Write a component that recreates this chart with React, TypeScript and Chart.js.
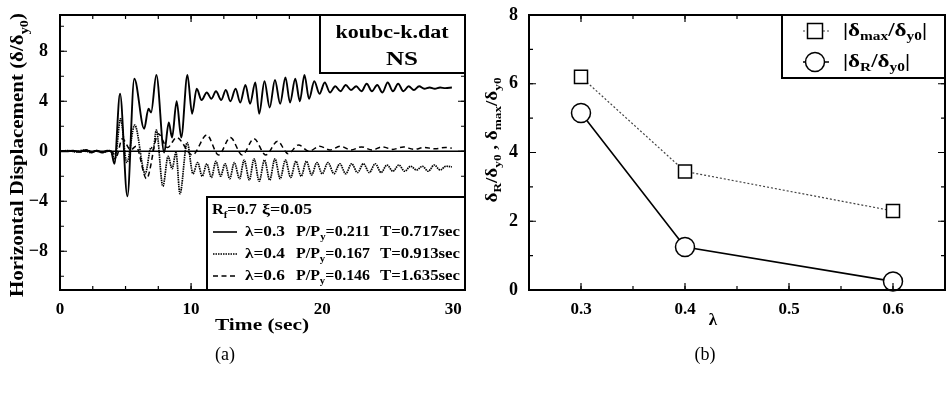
import React, { useEffect, useRef } from "react";
import { Chart, registerables } from "chart.js";
Chart.register(...registerables);

const SERIF = "'Liberation Serif', 'Times New Roman', serif";

// ---------- Panel (a): time histories ----------
const timeTicks = [0, 10, 20, 30];
const dispTicks = [-8, -4, 0, 4, 8];

// [time (sec), δ/δy0] extrema
const lam03Hist: [number, number][] = [
  [0, 0], [0.5, 0], [1.0, 0.05], [1.5, -0.05], [2.0, 0.1], [2.4, -0.1], [2.8, 0.05], [3.2, -0.1], [3.6, 0.05], [3.9, 0],
  [4.15, -1.0], [4.58, 4.6], [5.14, -3.6], [5.67, 5.8], [6.42, 1.8], [6.75, 3.4], [6.95, 3.1], [7.35, 6.1], [7.95, -0.1], [8.3, 2.3],
  [8.55, 1.1], [8.9, 4.0], [9.25, 1.1], [9.72, 6.1], [10.08, 3.0], [10.43, 5.0], [10.8, 4.1], [11.2, 4.7], [11.55, 4.2], [11.9, 4.8],
  [12.3, 4.1], [12.65, 4.9], [13.0, 4.0], [13.4, 5.0], [13.75, 3.9], [14.15, 5.3], [14.5, 3.8], [14.9, 5.5], [15.2, 3.0], [15.6, 5.6],
  [16.0, 3.5], [16.4, 5.7], [16.8, 3.8], [17.2, 5.9], [17.55, 3.9], [17.95, 5.8], [18.3, 4.0], [18.65, 6.1], [19.0, 4.2], [19.4, 5.6],
  [19.8, 4.6], [20.2, 5.5], [20.6, 4.7], [21.0, 5.2], [21.4, 4.8], [21.8, 5.3], [22.2, 4.9], [22.6, 5.2], [23.0, 4.8], [23.4, 5.4],
  [23.8, 4.8], [24.2, 5.3], [24.6, 4.7], [25.0, 5.5], [25.4, 4.8], [25.8, 5.4], [26.2, 4.8], [26.6, 5.2], [27.0, 4.9], [27.4, 5.2],
  [27.8, 5.0], [28.2, 5.1], [28.6, 5.0], [29.0, 5.1], [29.4, 5.05], [29.9, 5.1],
];
const lam04Hist: [number, number][] = [
  [0, 0], [0.6, 0.05], [1.2, -0.05], [1.8, 0.1], [2.3, -0.1], [2.8, 0.05], [3.3, -0.1], [3.8, 0.05], [4.2, -0.6], [4.62, 2.6],
  [5.1, -0.9], [5.7, 2.1], [6.5, -1.8], [6.95, 0.3], [7.1, 0.1], [7.35, 1.7], [7.85, -2.8], [8.25, -0.4], [8.55, -1.4], [8.85, -0.1],
  [9.15, -3.4], [9.7, 0.7], [10.15, -1.8], [10.5, -0.9], [10.85, -2.0], [11.2, -1.0], [11.55, -2.1], [11.9, -0.8], [12.25, -2.0], [12.6, -1.0],
  [12.95, -2.2], [13.3, -0.9], [13.7, -2.2], [14.05, -0.7], [14.45, -2.3], [14.8, -0.6], [15.2, -2.4], [15.6, -0.7], [16.0, -2.3], [16.4, -0.6],
  [16.8, -2.2], [17.2, -0.7], [17.6, -2.1], [18.0, -0.8], [18.4, -2.0], [18.8, -0.8], [19.2, -1.9], [19.6, -0.9], [20.0, -1.8], [20.45, -0.9],
  [20.9, -1.8], [21.35, -1.0], [21.8, -1.8], [22.25, -1.0], [22.7, -1.7], [23.15, -1.0], [23.6, -1.7], [24.05, -1.0], [24.5, -1.7], [24.95, -1.1],
  [25.4, -1.6], [25.85, -1.1], [26.3, -1.6], [26.75, -1.2], [27.2, -1.5], [27.65, -1.2], [28.1, -1.6], [28.55, -1.1], [29.0, -1.5], [29.45, -1.2],
  [29.9, -1.25],
];
const lam06Hist: [number, number][] = [
  [0, 0], [0.8, 0.05], [1.6, -0.05], [2.4, 0.05], [3.2, -0.05], [3.9, 0], [4.3, -0.4], [4.75, 1.0], [5.4, 0.1], [5.8, 0.4],
  [6.6, -2.2], [7.5, 1.4], [8.2, 0.3], [8.9, 1.1], [10.1, -0.3], [11.2, 1.3], [12.1, -0.3], [13.0, 1.1], [13.9, -0.3], [14.8, 1.0],
  [15.7, -0.3], [16.6, 0.8], [17.4, -0.2], [18.2, 0.5], [19.0, 0.0], [19.8, 0.4], [20.6, 0.1], [21.4, 0.4], [22.2, 0.1], [23.0, 0.35],
  [23.8, 0.1], [24.6, 0.35], [25.4, 0.15], [26.2, 0.35], [27.0, 0.15], [27.8, 0.3], [28.6, 0.2], [29.4, 0.3], [29.9, 0.25],
];

// ---------- Panel (b): peak and residual displacement ----------
const lambdaValues = [0.3, 0.4, 0.6];
const maxRatio = [6.2, 3.45, 2.3];
const residualRatio = [5.15, 1.25, 0.25];
const lambdaTicks = [0.3, 0.4, 0.5, 0.6];
const ratioTicks = [0, 2, 4, 6, 8];

type Seg = { t: string; sub?: boolean };

function segFont(size: number, weight: string, sub: boolean) {
  return `${weight} ${sub ? Math.round(size * 0.66) : size}px ${SERIF}`;
}
function richWidth(ctx: CanvasRenderingContext2D, segs: Seg[], size: number, weight: string) {
  let w = 0;
  for (const s of segs) {
    ctx.font = segFont(size, weight, !!s.sub);
    w += ctx.measureText(s.t).width;
  }
  return w;
}
function drawRich(
  ctx: CanvasRenderingContext2D,
  segs: Seg[],
  x: number,
  y: number,
  size: number,
  weight: string,
  align: "left" | "center",
  fit?: number,
  rotate?: boolean
) {
  const w = richWidth(ctx, segs, size, weight);
  const sx = fit ? fit / w : 1;
  ctx.save();
  ctx.translate(x, y);
  if (rotate) ctx.rotate(-Math.PI / 2);
  ctx.scale(sx, 1);
  let cx = align === "center" ? -w / 2 : 0;
  ctx.textBaseline = "middle";
  ctx.textAlign = "left";
  ctx.fillStyle = "#000";
  for (const s of segs) {
    ctx.font = segFont(size, weight, !!s.sub);
    ctx.fillText(s.t, cx, s.sub ? size * 0.33 : 0);
    cx += ctx.measureText(s.t).width;
  }
  ctx.restore();
}

function drawFrameAndTicks(
  chart: any,
  xMajor: number[],
  xMinorStep: number,
  yMajor: number[],
  yMinorStep: number
) {
  const { ctx, chartArea: a, scales } = chart;
  const xs = scales.x;
  const ys = scales.y;
  ctx.save();
  ctx.strokeStyle = "#000";
  ctx.lineWidth = 1.2;
  const tick = (px: number, horizontal: boolean, len: number) => {
    ctx.beginPath();
    if (horizontal) {
      ctx.moveTo(px, a.bottom);
      ctx.lineTo(px, a.bottom - len);
      ctx.moveTo(px, a.top);
      ctx.lineTo(px, a.top + len);
    } else {
      ctx.moveTo(a.left, px);
      ctx.lineTo(a.left + len, px);
      ctx.moveTo(a.right, px);
      ctx.lineTo(a.right - len, px);
    }
    ctx.stroke();
  };
  const eps = 1e-9;
  for (let v = Math.ceil(xs.min / xMinorStep - eps) * xMinorStep; v <= xs.max + eps; v += xMinorStep) {
    tick(xs.getPixelForValue(v), true, 4);
  }
  for (const v of xMajor) tick(xs.getPixelForValue(v), true, 7);
  for (let v = Math.ceil(ys.min / yMinorStep - eps) * yMinorStep; v <= ys.max + eps; v += yMinorStep) {
    tick(ys.getPixelForValue(v), false, 4);
  }
  for (const v of yMajor) tick(ys.getPixelForValue(v), false, 7);
  ctx.lineWidth = 2;
  ctx.strokeRect(a.left, a.top, a.right - a.left, a.bottom - a.top);
  ctx.restore();
}

const decorA = {
  id: "decorA",
  beforeDatasetsDraw(chart: any) {
    const { ctx, chartArea: a, scales } = chart;
    const y0 = scales.y.getPixelForValue(0);
    ctx.save();
    ctx.strokeStyle = "#000";
    ctx.lineWidth = 1.6;
    ctx.beginPath();
    ctx.moveTo(a.left, y0);
    ctx.lineTo(a.right, y0);
    ctx.stroke();
    ctx.restore();
  },
  afterDraw(chart: any) {
    const ctx: CanvasRenderingContext2D = chart.ctx;
    drawFrameAndTicks(chart, timeTicks, 2.5, dispTicks, 2);
    ctx.save();
    // file-name box
    ctx.fillStyle = "#fff";
    ctx.fillRect(320, 15, 145, 58);
    ctx.strokeStyle = "#000";
    ctx.lineWidth = 2;
    ctx.strokeRect(320, 15, 145, 58);
    drawRich(ctx, [{ t: "koubc-k.dat" }], 392, 33, 18, "bold", "center", 113);
    drawRich(ctx, [{ t: "NS" }], 402, 60, 19, "bold", "center", 32);
    // legend box
    ctx.fillStyle = "#fff";
    ctx.fillRect(207, 197, 258, 93);
    ctx.strokeRect(207, 197, 258, 93);
    drawRich(ctx, [{ t: "R" }, { t: "f", sub: true }, { t: "=0.7" }], 212, 210, 15, "bold", "left", 45);
    drawRich(ctx, [{ t: "ξ=0.05" }], 262, 210, 15, "bold", "left", 50);
    const rows = [
      { y: 232, dash: [] as number[], lam: "λ=0.3", p: "=0.211", T: "T=0.717sec" },
      { y: 254, dash: [1.5, 1], lam: "λ=0.4", p: "=0.167", T: "T=0.913sec" },
      { y: 276, dash: [5, 3.5], lam: "λ=0.6", p: "=0.146", T: "T=1.635sec" },
    ];
    for (const r of rows) {
      ctx.save();
      ctx.setLineDash(r.dash);
      ctx.lineWidth = 1.6;
      ctx.beginPath();
      ctx.moveTo(213, r.y);
      ctx.lineTo(237, r.y);
      ctx.stroke();
      ctx.restore();
      drawRich(ctx, [{ t: r.lam }], 245, r.y, 15, "bold", "left", 40);
      drawRich(ctx, [{ t: "P/P" }, { t: "y", sub: true }, { t: r.p }], 296, r.y, 15, "bold", "left", 74);
      drawRich(ctx, [{ t: r.T }], 380, r.y, 15, "bold", "left", 80);
    }
    // axis titles
    drawRich(
      ctx,
      [{ t: "Horizontal Displacement (δ/δ" }, { t: "y0", sub: true }, { t: ")" }],
      18,
      155,
      19,
      "bold",
      "center",
      284,
      true
    );
    drawRich(ctx, [{ t: "Time (sec)" }], 262, 326, 16, "bold", "center", 94);
    drawRich(ctx, [{ t: "(a)" }], 225, 355, 18, "normal", "center");
    ctx.restore();
  },
};

const decorB = {
  id: "decorB",
  afterDraw(chart: any) {
    const ctx: CanvasRenderingContext2D = chart.ctx;
    drawFrameAndTicks(chart, lambdaTicks, 0.05, ratioTicks, 1);
    ctx.save();
    // legend box (canvas starts at page x=480)
    const bx = 782 - 480;
    ctx.fillStyle = "#fff";
    ctx.fillRect(bx, 15, 945 - 782, 63);
    ctx.strokeStyle = "#000";
    ctx.lineWidth = 2;
    ctx.strokeRect(bx, 15, 945 - 782, 63);
    const mx = 815 - 480;
    // row 1: square
    ctx.save();
    ctx.lineWidth = 1.2;
    ctx.strokeStyle = "#444";
    ctx.setLineDash([2, 2]);
    ctx.beginPath();
    ctx.moveTo(803 - 480, 31);
    ctx.lineTo(829 - 480, 31);
    ctx.stroke();
    ctx.restore();
    ctx.fillStyle = "#fff";
    ctx.lineWidth = 1.5;
    ctx.fillRect(mx - 7.5, 31 - 7.5, 15, 15);
    ctx.strokeRect(mx - 7.5, 31 - 7.5, 15, 15);
    // row 2: circle
    ctx.lineWidth = 1.5;
    ctx.beginPath();
    ctx.moveTo(803 - 480, 62);
    ctx.lineTo(829 - 480, 62);
    ctx.stroke();
    ctx.beginPath();
    ctx.arc(mx, 62, 9.5, 0, Math.PI * 2);
    ctx.fill();
    ctx.stroke();
    drawRich(ctx, [{ t: "|δ" }, { t: "max", sub: true }, { t: "/δ" }, { t: "y0", sub: true }, { t: "|" }], 843 - 480, 31, 18, "bold", "left", 84);
    drawRich(ctx, [{ t: "|δ" }, { t: "R", sub: true }, { t: "/δ" }, { t: "y0", sub: true }, { t: "|" }], 843 - 480, 62, 18, "bold", "left", 67);
    // axis titles
    drawRich(
      ctx,
      [
        { t: "δ" }, { t: "R", sub: true }, { t: "/δ" }, { t: "y0", sub: true },
        { t: " , δ" }, { t: "max", sub: true }, { t: "/δ" }, { t: "y0", sub: true },
      ],
      493 - 480,
      140,
      16,
      "bold",
      "center",
      125,
      true
    );
    drawRich(ctx, [{ t: "λ" }], 713 - 480, 321, 17, "bold", "center");
    drawRich(ctx, [{ t: "(b)" }], 705 - 480, 355, 18, "normal", "center");
    ctx.restore();
  },
};

const xTickFont = { family: SERIF, weight: "bold" as const, size: 17 };
const yTickFont = { family: SERIF, weight: "bold" as const, size: 18 };

function zeroPad(s: any) {
  s.paddingTop = 0;
  s.paddingBottom = 0;
  s.paddingLeft = 0;
  s.paddingRight = 0;
}

const noGrid = { display: false, drawTicks: false };

export default function App() {
  const refA = useRef<HTMLCanvasElement>(null);
  const refB = useRef<HTMLCanvasElement>(null);

  useEffect(() => {
    const line = (pts: [number, number][], dash: number[], width: number) => ({
      data: pts.map(([x, y]) => ({ x, y })),
      borderColor: "#000",
      borderWidth: width,
      borderDash: dash,
      pointRadius: 0,
      cubicInterpolationMode: "monotone" as const,
      fill: false,
    });
    const chartA = new Chart(refA.current!, {
      type: "line",
      data: {
        datasets: [
          line(lam03Hist, [], 1.9),
          line(lam04Hist, [1.5, 0.8], 1.7),
          line(lam06Hist, [5, 3.5], 1.5),
        ],
      },
      options: {
        responsive: false,
        animation: false,
        events: [],
        layout: { autoPadding: false, padding: { left: 0, top: 15, right: 15, bottom: 0 } },
        plugins: { legend: { display: false }, tooltip: { enabled: false } },
        scales: {
          x: {
            type: "linear",
            min: 0,
            max: 30.9,
            grid: noGrid,
            border: { display: false },
            afterBuildTicks: (s: any) => {
              s.ticks = timeTicks.map((v) => ({ value: v }));
            },
            afterFit: (s: any) => {
              s.height = 106;
              zeroPad(s);
            },
            ticks: { font: xTickFont, color: "#000", padding: 9, maxRotation: 0, autoSkip: false },
          },
          y: {
            type: "linear",
            min: -11.1,
            max: 10.9,
            grid: noGrid,
            border: { display: false },
            afterBuildTicks: (s: any) => {
              s.ticks = dispTicks.map((v) => ({ value: v }));
            },
            afterFit: (s: any) => {
              s.width = 60;
              zeroPad(s);
            },
            ticks: {
              font: yTickFont,
              color: "#000",
              padding: 12,
              callback: (v: any) => (Number(v) < 0 ? "−" + Math.abs(Number(v)) : String(v)),
            },
          },
        },
      },
      plugins: [decorA],
    });

    const chartB = new Chart(refB.current!, {
      type: "line",
      data: {
        datasets: [
          {
            data: lambdaValues.map((x, i) => ({ x, y: maxRatio[i] })),
            borderColor: "#444",
            borderWidth: 1.2,
            borderDash: [2, 2],
            pointStyle: "rect",
            pointRadius: 9.2,
            pointBackgroundColor: "#fff",
            pointBorderColor: "#000",
            pointBorderWidth: 1.5,
            tension: 0,
            clip: false,
          },
          {
            data: lambdaValues.map((x, i) => ({ x, y: residualRatio[i] })),
            borderColor: "#000",
            borderWidth: 1.6,
            pointStyle: "circle",
            pointRadius: 9.5,
            pointBackgroundColor: "#fff",
            pointBorderColor: "#000",
            pointBorderWidth: 1.5,
            tension: 0,
            clip: false,
          },
        ],
      },
      options: {
        responsive: false,
        animation: false,
        events: [],
        layout: { autoPadding: false, padding: { left: 0, top: 15, right: 2, bottom: 0 } },
        plugins: { legend: { display: false }, tooltip: { enabled: false } },
        scales: {
          x: {
            type: "linear",
            min: 0.25,
            max: 0.65,
            grid: noGrid,
            border: { display: false },
            afterBuildTicks: (s: any) => {
              s.ticks = lambdaTicks.map((v) => ({ value: v }));
            },
            afterFit: (s: any) => {
              s.height = 106;
              zeroPad(s);
            },
            ticks: {
              font: xTickFont,
              color: "#000",
              padding: 9,
              maxRotation: 0,
              autoSkip: false,
              callback: (v: any) => Number(v).toFixed(1),
            },
          },
          y: {
            type: "linear",
            min: 0,
            max: 8,
            grid: noGrid,
            border: { display: false },
            afterBuildTicks: (s: any) => {
              s.ticks = ratioTicks.map((v) => ({ value: v }));
            },
            afterFit: (s: any) => {
              s.width = 49;
              zeroPad(s);
            },
            ticks: { font: yTickFont, color: "#000", padding: 11 },
          },
        },
      },
      plugins: [decorB],
    });

    return () => {
      chartA.destroy();
      chartB.destroy();
    };
  }, []);

  return (
    <div style={{ position: "absolute", left: 0, top: 0, width: 947, height: 396, background: "#fff" }}>
      <canvas ref={refA} width={480} height={396} style={{ position: "absolute", left: 0, top: 0 }} />
      <canvas ref={refB} width={467} height={396} style={{ position: "absolute", left: 480, top: 0 }} />
    </div>
  );
}
